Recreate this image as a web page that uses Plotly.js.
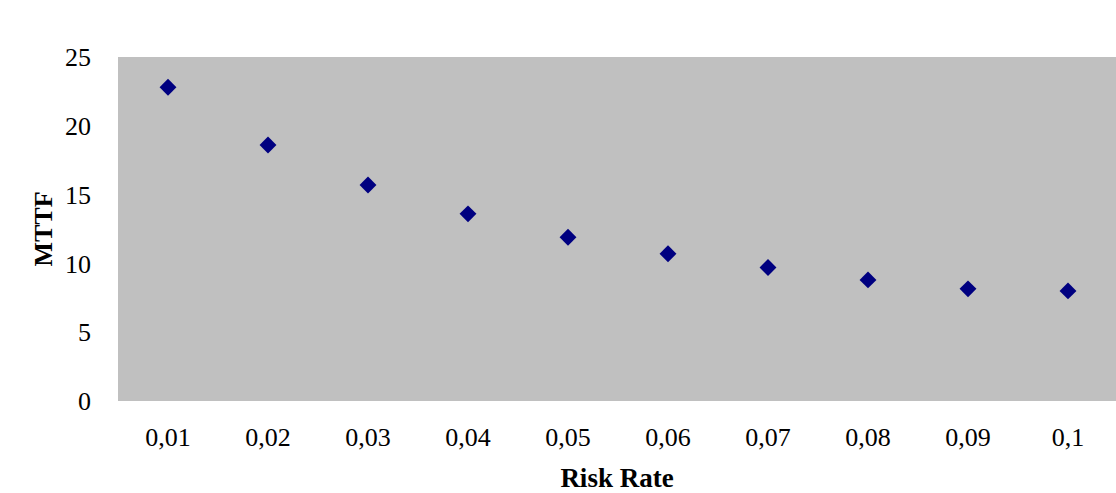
<!DOCTYPE html>
<html>
<head>
<meta charset="utf-8">
<script src="https://cdn.plot.ly/plotly-3.0.1.min.js"></script>
<style>html,body{margin:0;padding:0;background:#fff;}#chart{width:1116px;height:493px;}</style>
</head>
<body>
<div id="chart"></div>
<script>
const riskRates = ["0,01","0,02","0,03","0,04","0,05","0,06","0,07","0,08","0,09","0,1"];
const mttf = [22.8, 18.6, 15.7, 13.6, 11.9, 10.7, 9.7, 8.8, 8.15, 8.0];
const yTicks = [0, 5, 10, 15, 20, 25];

const font = "'Liberation Serif', 'DejaVu Serif', serif";
Plotly.newPlot('chart', [{
  x: riskRates,
  y: mttf,
  type: 'scatter',
  mode: 'markers',
  marker: {symbol: 'diamond', size: 13, color: '#000080'},
  hoverinfo: 'x+y'
}], {
  width: 1116, height: 493,
  margin: {l: 118, r: 0, t: 57, b: 92},
  paper_bgcolor: '#ffffff',
  plot_bgcolor: '#c0c0c0',
  showlegend: false,
  font: {family: font, size: 26, color: '#000'},
  xaxis: {
    type: 'category',
    range: [-0.5, 9.48],
    showgrid: false, zeroline: false, showline: false,
    ticks: '', ticklen: 0,
    ticklabelstandoff: 18,
    tickfont: {family: font, size: 26},
    title: {text: '<b>Risk Rate</b>', font: {family: font, size: 27}, standoff: 17}
  },
  yaxis: {
    range: [0, 25],
    tickvals: yTicks,
    showgrid: false, zeroline: false, showline: false,
    ticks: '', ticklen: 0,
    ticklabelstandoff: 26,
    tickfont: {family: font, size: 26},
    title: {text: '<b>MTTF</b>', font: {family: font, size: 26}, standoff: 4}
  }
}, {displayModeBar: false, staticPlot: true});
</script>
</body>
</html>
